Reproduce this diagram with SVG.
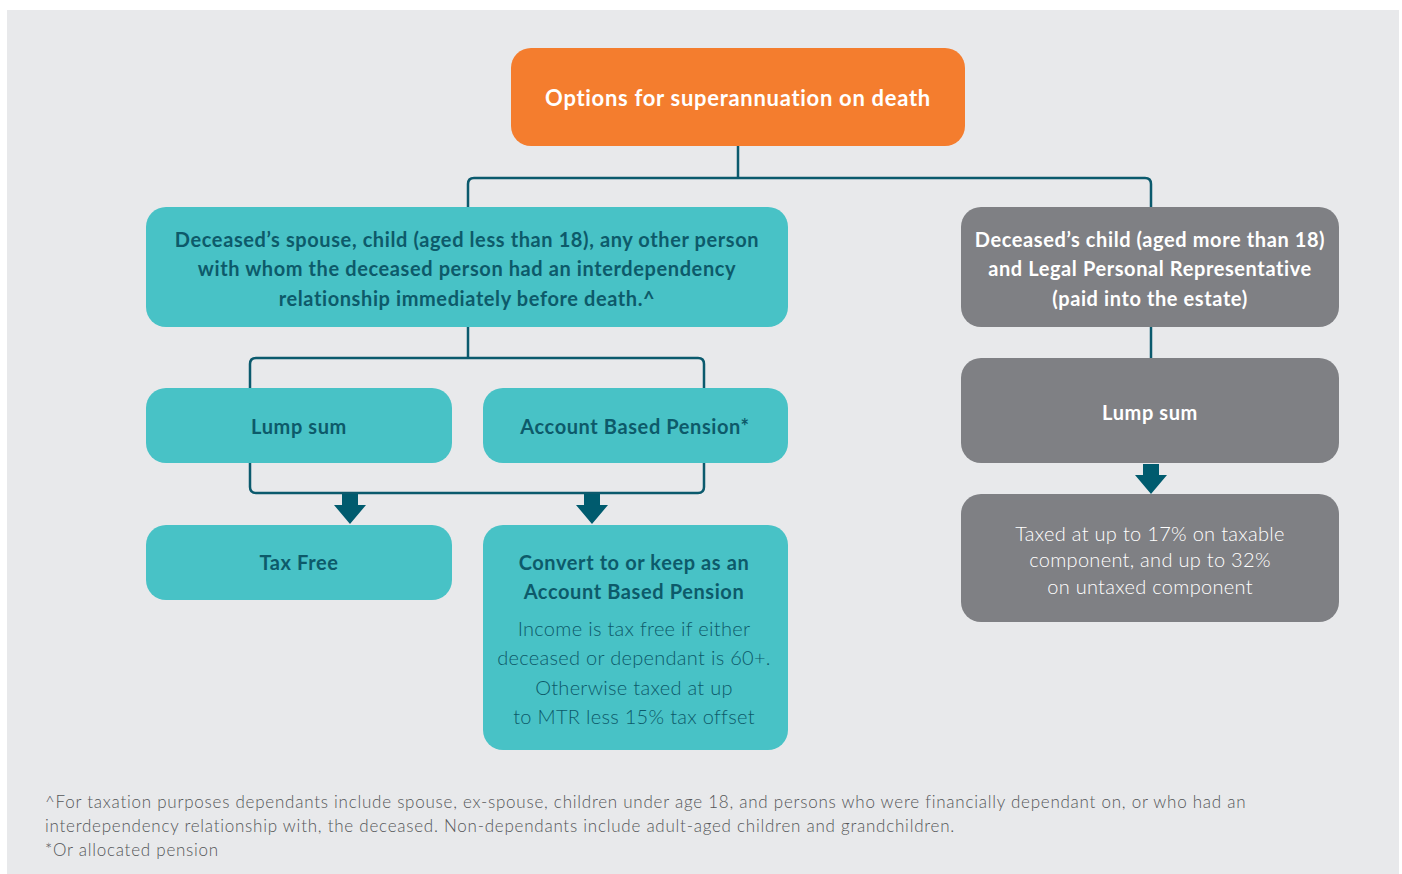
<svg xmlns="http://www.w3.org/2000/svg" width="1402" height="874" viewBox="0 0 1402 874">
  <defs>
    <style>
      .panel { fill: #e8e9eb; }
      .orange { fill: #f47d2e; }
      .teal { fill: #48c2c6; }
      .grey { fill: #7f8084; }
      .line { fill: none; stroke: #0b5a6d; stroke-width: 2.5; stroke-linejoin: round; }
      .arrow { fill: #005b6e; }
      text { font-family: "Lato", "Open Sans", "Liberation Sans", sans-serif; text-anchor: middle; }
      .bold { font-weight: 700; font-size: 20px; letter-spacing: 0.6px; }
      .title { font-size: 22px; letter-spacing: 0.7px; }
      .light { font-weight: 300; font-size: 20px; letter-spacing: 0.3px; }
      .dark { fill: #0d5a6a; }
      .white { fill: #ffffff; }
      .note { font-weight: 300; font-size: 17px; letter-spacing: 0.75px; fill: #555759; text-anchor: start; }
    </style>
    <path id="down" d="M -8 0 H 8 V 11 H 16 L 0 30 L -16 11 H -8 Z"/>
  </defs>

  <rect x="0" y="0" width="1402" height="874" fill="#ffffff"/>
  <rect class="panel" x="7" y="10" width="1392" height="864"/>

  <!-- connectors -->
  <g id="connectors">
    <path class="line" d="M 738 146 V 178"/>
    <path class="line" d="M 468 207 V 184 Q 468 178 474 178 H 1145 Q 1151 178 1151 184 V 207"/>
    <path class="line" d="M 468 327 V 358"/>
    <path class="line" d="M 250 388 V 364 Q 250 358 256 358 H 698 Q 704 358 704 364 V 388"/>
    <path class="line" d="M 250 463 V 487 Q 250 493 256 493 H 698 Q 704 493 704 487 V 463"/>
    <path class="line" d="M 1151 327 V 358"/>
    <use href="#down" class="arrow" x="350" y="494"/>
    <use href="#down" class="arrow" x="592" y="494"/>
    <use href="#down" class="arrow" x="1151" y="464"/>
  </g>

  <g id="root">
    <rect class="orange" x="511" y="48" width="454" height="98" rx="20"/>
    <text class="bold title white" x="738" y="106">Options for superannuation on death</text>
  </g>

  <g id="dependants">
    <rect class="teal" x="146" y="207" width="642" height="120" rx="20"/>
    <text class="bold dark" x="467" y="247">Deceased’s spouse, child (aged less than 18), any other person</text>
    <text class="bold dark" x="467" y="276">with whom the deceased person had an interdependency</text>
    <text class="bold dark" x="467" y="306">relationship immediately before death.^</text>
  </g>

  <g id="non-dependants">
    <rect class="grey" x="961" y="207" width="378" height="120" rx="20"/>
    <text class="bold white" x="1150" y="247">Deceased’s child (aged more than 18)</text>
    <text class="bold white" x="1150" y="276">and Legal Personal Representative</text>
    <text class="bold white" x="1150" y="306">(paid into the estate)</text>
  </g>

  <g id="lump-sum-dep">
    <rect class="teal" x="146" y="388" width="306" height="75" rx="20"/>
    <text class="bold dark" x="299" y="434">Lump sum</text>
  </g>

  <g id="abp">
    <rect class="teal" x="483" y="388" width="305" height="75" rx="20"/>
    <text class="bold dark" x="635" y="434">Account Based Pension*</text>
  </g>

  <g id="tax-free">
    <rect class="teal" x="146" y="525" width="306" height="75" rx="20"/>
    <text class="bold dark" x="299" y="570">Tax Free</text>
  </g>

  <g id="convert">
    <rect class="teal" x="483" y="525" width="305" height="225" rx="20"/>
    <text class="bold dark" x="634" y="570">Convert to or keep as an</text>
    <text class="bold dark" x="634" y="599">Account Based Pension</text>
    <text class="light dark" x="634" y="636">Income is tax free if either</text>
    <text class="light dark" x="634" y="665">deceased or dependant is 60+.</text>
    <text class="light dark" x="634" y="695">Otherwise taxed at up</text>
    <text class="light dark" x="634" y="724">to MTR less 15% tax offset</text>
  </g>

  <g id="lump-sum-estate">
    <rect class="grey" x="961" y="358" width="378" height="105" rx="20"/>
    <text class="bold white" x="1150" y="420">Lump sum</text>
  </g>

  <g id="taxed">
    <rect class="grey" x="961" y="494" width="378" height="128" rx="20"/>
    <text class="light white" x="1150" y="541">Taxed at up to 17% on taxable</text>
    <text class="light white" x="1150" y="567">component, and up to 32%</text>
    <text class="light white" x="1150" y="594">on untaxed component</text>
  </g>

  <g id="footnotes">
    <text class="note" x="45" y="808">^For taxation purposes dependants include spouse, ex-spouse, children under age 18, and persons who were financially dependant on, or who had an</text>
    <text class="note" x="45" y="832">interdependency relationship with, the deceased. Non-dependants include adult-aged children and grandchildren.</text>
    <text class="note" x="45" y="856">*Or allocated pension</text>
  </g>
</svg>
